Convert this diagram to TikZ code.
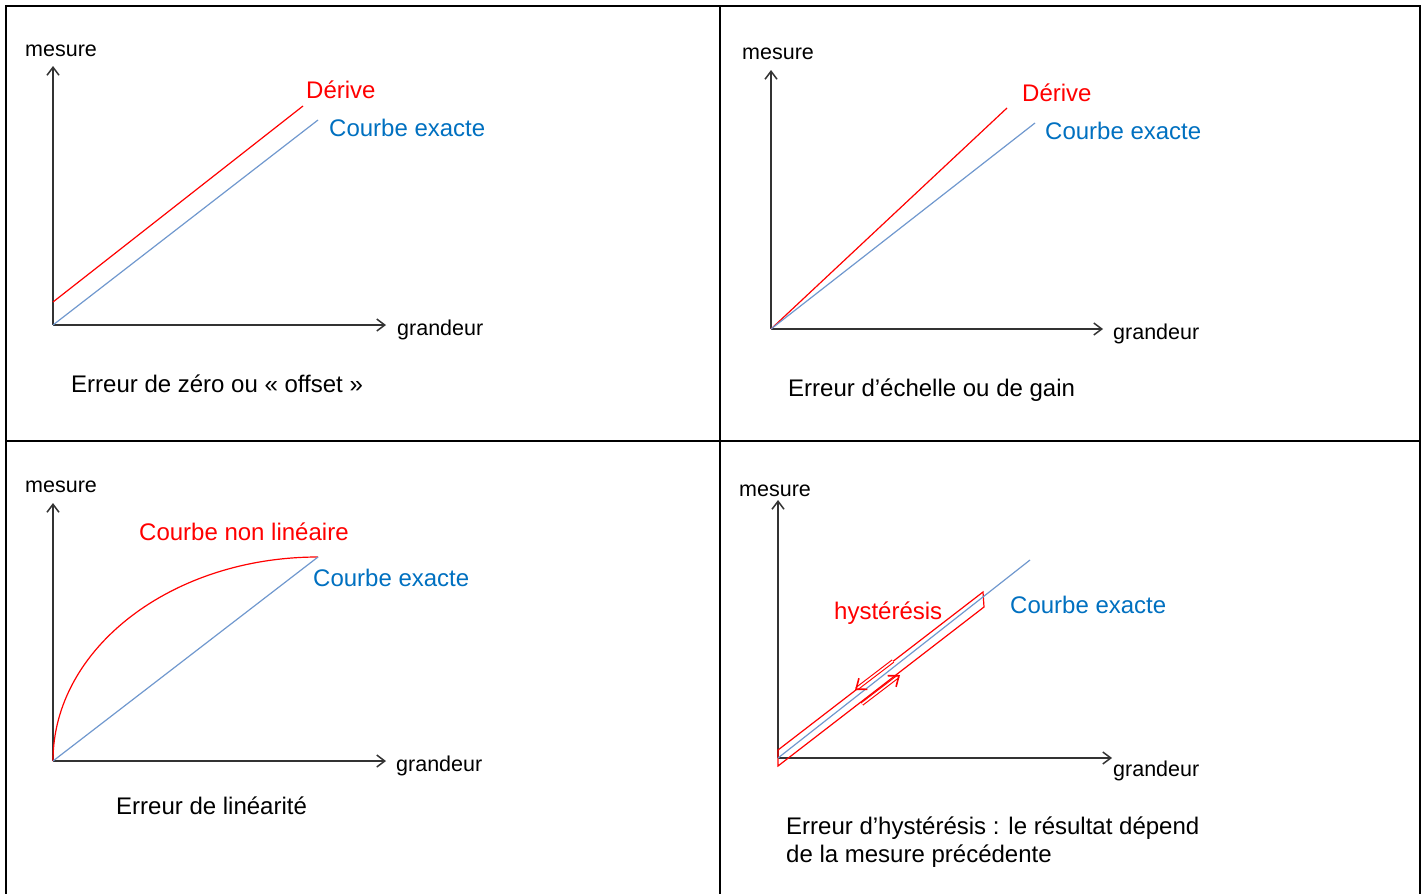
\documentclass[tikz,border=0pt]{standalone}
\usepackage{fontspec}
\setmainfont{Liberation Sans}
\usetikzlibrary{arrows.meta}
\definecolor{exactblue}{RGB}{0,112,192}
\definecolor{lineblue}{RGB}{112,152,206}
\tikzset{
    frame/.style={draw=black, line width=2pt},
    axis/.style={draw=black!80, line width=1.5pt, -{Straight Barb[length=8pt,width=12pt]}},
    axislabel/.style={inner sep=0, anchor=base west, font=\fontsize{21.5}{24}\selectfont},
    redlabel/.style={inner sep=0, anchor=base west, text=red, font=\fontsize{24}{28}\selectfont},
    bluelabel/.style={inner sep=0, anchor=base west, text=exactblue, font=\fontsize{24}{28}\selectfont},
    caption/.style={inner sep=0, anchor=base west, align=left, font=\fontsize{24}{28}\selectfont},
    redcurve/.style={draw=red, line width=1.2pt},
    bluecurve/.style={draw=lineblue, line width=1.2pt},
    hystarrow/.style={draw=red, line width=1.1pt, double=white, double distance=1.6pt, -{Straight Barb[length=9pt,width=14pt,line width=1.6pt]}}
}

\begin{document}
\begin{tikzpicture}[x=1pt, y=-1pt]
    \useasboundingbox (0,0) rectangle (1427,894);
    % Frame
    \draw [frame] (6,900) -- (6,6) -- (1420,6) -- (1420,900);
    \draw [frame] (720,6) -- (720,900);
    \draw [frame] (6,441) -- (1420,441);

    % Erreur de zero
    \coordinate (oA) at (53,325);
    \coordinate (yA) at (53,66);
    \coordinate (xA) at (386,325);
    \coordinate (dA) at (53,302);
    \coordinate (dAend) at (303,106);
    \coordinate (cAend) at (318,120);
    \draw [axis] (oA) -- (yA);
    \draw [axis] (oA) -- (xA);
    \draw [redcurve] (dA) -- (dAend);
    \draw [bluecurve] (oA) -- (cAend);
    \node [axislabel] (mesA) at (25,56) {mesure};
    \node [axislabel] (graA) at (397,335) {grandeur};
    \node [redlabel] (derA) at (306,98) {Dérive};
    \node [bluelabel] (exaA) at (329,136) {Courbe exacte};
    \node [caption] (capA) at (71,392) {Erreur de zéro ou « offset »};

    % Erreur d'echelle
    \coordinate (oB) at (771,329);
    \coordinate (yB) at (771,70);
    \coordinate (xB) at (1103,329);
    \coordinate (dBend) at (1007,108);
    \coordinate (cBend) at (1035,123);
    \draw [axis] (oB) -- (yB);
    \draw [axis] (oB) -- (xB);
    \draw [redcurve] (oB) -- (dBend);
    \draw [bluecurve] (oB) -- (cBend);
    \node [axislabel] (mesB) at (742,59) {mesure};
    \node [axislabel] (graB) at (1113,339) {grandeur};
    \node [redlabel] (derB) at (1022,101) {Dérive};
    \node [bluelabel] (exaB) at (1045,139) {Courbe exacte};
    \node [caption] (capB) at (788,396) {Erreur d’échelle ou de gain};

    % Erreur de linearite
    \coordinate (oC) at (53,761);
    \coordinate (yC) at (53,503);
    \coordinate (xC) at (386,761);
    \coordinate (cCend) at (318,557);
    \draw [axis] (oC) -- (yC);
    \draw [axis] (oC) -- (xC);
    \draw [redcurve] (oC) .. controls (53,648) and (172,557) .. (cCend);
    \draw [bluecurve] (oC) -- (cCend);
    \node [axislabel] (mesC) at (25,492) {mesure};
    \node [axislabel] (graC) at (396,771) {grandeur};
    \node [redlabel] (nonC) at (139,540) {Courbe non linéaire};
    \node [bluelabel] (exaC) at (313,586) {Courbe exacte};
    \node [caption] (capC) at (116,814) {Erreur de linéarité};

    % Erreur d'hysteresis
    \coordinate (oD) at (778,758);
    \coordinate (yD) at (778,500);
    \coordinate (xD) at (1112,758);
    \coordinate (cDend) at (1030,560);
    \coordinate (h1) at (778,750);
    \coordinate (h2) at (983,592);
    \coordinate (h3) at (984,607);
    \coordinate (h4) at (778,766);
    \coordinate (downA) at (893,661);
    \coordinate (downB) at (855,690);
    \coordinate (upA) at (862,704);
    \coordinate (upB) at (900,675);
    \draw [axis] (oD) -- (yD);
    \draw [axis] (oD) -- (xD);
    \draw [redcurve] (h1) -- (h2) -- (h3) -- (h4) -- cycle;
    \draw [bluecurve] (oD) -- (cDend);
    \draw [hystarrow] (downA) -- (downB);
    \draw [hystarrow] (upA) -- (upB);
    \node [axislabel] (mesD) at (739,496) {mesure};
    \node [axislabel] (graD) at (1113,776) {grandeur};
    \node [redlabel] (hysD) at (834,619) {hystérésis};
    \node [bluelabel] (exaD) at (1010,613) {Courbe exacte};
    \node [caption] (capD) at (786,862) {Erreur d’hystérésis : le résultat dépend\\de la mesure précédente};
\end{tikzpicture}
\end{document}
